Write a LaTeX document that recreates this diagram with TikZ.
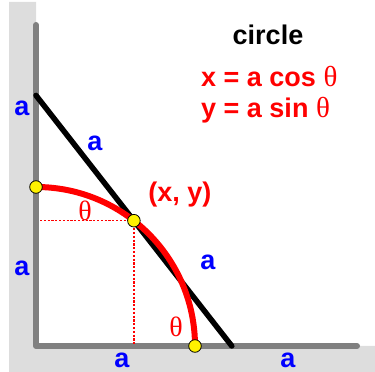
\documentclass[tikz,border=0pt]{standalone}
\usepackage{fontspec}
\setmainfont{Liberation Sans}
\newfontfamily\thfont{Liberation Serif}
\definecolor{bggrey}{RGB}{221,221,221}
\definecolor{axisgrey}{RGB}{128,128,128}
\definecolor{lblue}{RGB}{0,0,255}
\definecolor{lred}{RGB}{255,0,0}
\newcommand{\thet}{{\fontsize{29}{30}\thfont\fontseries{m}\selectfont θ}}
\begin{document}
\begin{tikzpicture}[x=1pt,y=1pt,
  txt/.style={inner sep=0pt,font=\fontsize{27}{30}\selectfont\bfseries},
  alabel/.style={txt,text=lblue},
  rlabel/.style={txt,text=lred},
  thlabel/.style={inner sep=0pt,text=lred,font=\fontsize{28}{30}\selectfont\thfont},
  axisline/.style={axisgrey,line width=6,line cap=round,line join=round},
  ladder/.style={black,line width=5.5,line cap=round},
  circarc/.style={lred,line width=6},
  guide/.style={lred,line width=1.2,dash pattern=on 2.2pt off 1.6pt},
  pt/.style={circle,fill=yellow,draw=black,line width=0.8,inner sep=0pt,minimum size=12.6}]
\useasboundingbox (0,0) rectangle (375,372);
% grey L background
\fill[bggrey] (9,0) -- (9,370) -- (36,370) -- (36,26) -- (375,26) -- (375,0) -- cycle;
% coordinates
\coordinate (O) at (36,26);
\coordinate (Ytop) at (36,347);
\coordinate (Xend) at (357,26);
\coordinate (Ltop) at (36,276.6);
\coordinate (Lbot) at (231.8,26);
\coordinate (Hs) at (40,151.3);
\coordinate (Vb) at (133.9,26);
% axes
\draw[axisline] (Ytop) -- (O) -- (Xend);
% dotted guides
\node[pt,draw=none,fill=none] (M) at (133.9,151.3) {};
\draw[guide] (Hs) -- (M.center);
\draw[guide] (M.center) -- (Vb);
% ladder
\draw[ladder] (Ltop) -- (Lbot);
% arc
\draw[circarc] (36,185) arc[start angle=90,end angle=0,radius=159];
% dots
\node[pt] (P1) at (36,185) {};
\node[pt] (P2) at (195,26) {};
\node[pt] (P3) at (M) {};
% labels
\node[txt,anchor=base] (title) at (268,327) {circle};
\node[rlabel,anchor=base west] (eqx) at (201,285) {x = a cos \thet};
\node[rlabel,anchor=base west] (eqy) at (201,254) {y = a sin \thet};
\node[rlabel] (xy) at (180,177) {(x, y)};
\node[thlabel] (th1) at (85,161) {θ};
\node[thlabel] (th2) at (176,45) {θ};
\node[alabel] (a1) at (22,264) {a};
\node[alabel] (a2) at (95,229) {a};
\node[alabel] (a3) at (208,110) {a};
\node[alabel] (a4) at (22,104) {a};
\node[alabel] (a5) at (122,12) {a};
\node[alabel] (a6) at (288,12) {a};
\end{tikzpicture}
\end{document}
